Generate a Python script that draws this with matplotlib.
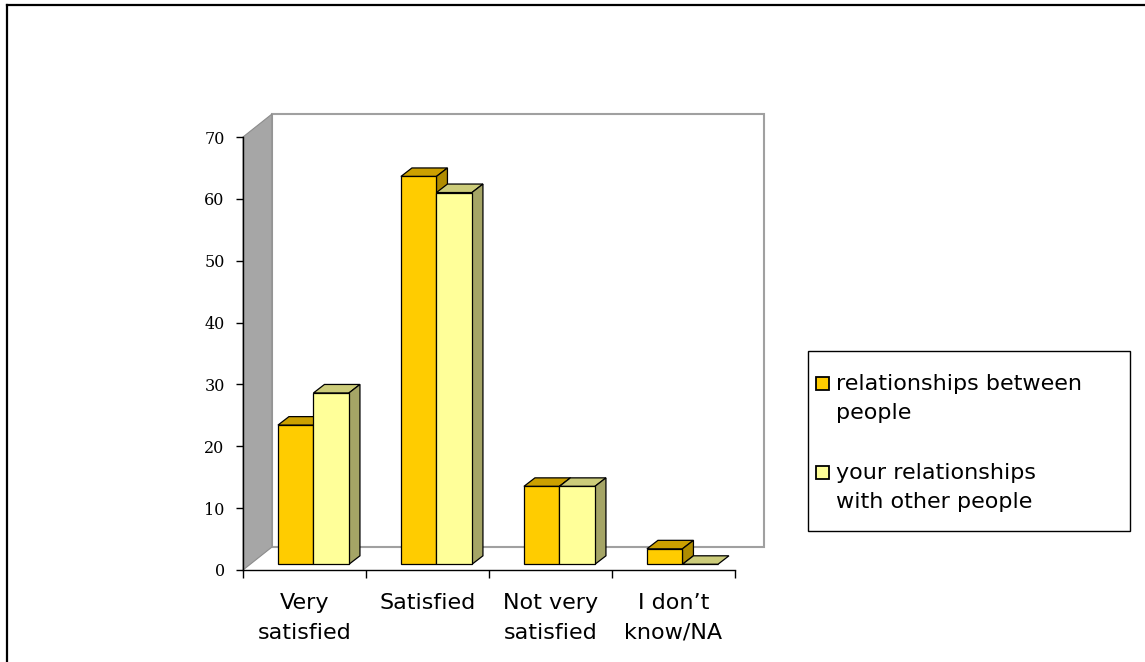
import matplotlib
matplotlib.use("Agg")
import matplotlib.pyplot as plt
from matplotlib.patches import Polygon, Rectangle
from matplotlib.lines import Line2D

categories = ["Very\nsatisfied", "Satisfied", "Not very\nsatisfied", "I don\u2019t\nknow/NA"]
series_names = ["relationships between\npeople", "your relationships\nwith other people"]
between_people = [22.5, 62.7, 12.6, 2.5]
with_others = [27.7, 60.1, 12.6, 0.0]
y_ticks = [0, 10, 20, 30, 40, 50, 60, 70]

# face colours: front, top, side
orange = ("#FFCC00", "#CCA000", "#B08C00")
yellow = ("#FFFF99", "#CCCC7A", "#A5A566")

SANS = "DejaVu Sans"
SERIF = "DejaVu Serif"

W, H = 1145, 662
fig = plt.figure(figsize=(W / 100, H / 100), dpi=100)
ax_l, ax_r, ax_b, ax_t = 243, 735, 570, 137
ax = fig.add_axes([ax_l / W, 1 - ax_b / H, (ax_r - ax_l) / W, (ax_b - ax_t) / H])
ax.set_xlim(0, 4)
ax.set_ylim(0, 70)
ax.set_facecolor("none")

# pixel -> data scale
sx = 4 / (ax_r - ax_l)
sy = 70 / (ax_b - ax_t)

# walls of the 3d box
wdx, wdy = 29 * sx, 23 * sy
ax.add_patch(Polygon([(0, 0), (0, 70), (wdx, 70 + wdy), (wdx, wdy)], closed=True,
                     facecolor="#A6A6A6", edgecolor="#8C8C8C", lw=0.8, zorder=0.5, clip_on=False))
ax.add_patch(Polygon([(wdx, wdy), (wdx, 70 + wdy), (4 + wdx, 70 + wdy), (4 + wdx, wdy)], closed=True,
                     facecolor="white", edgecolor="#A0A0A0", lw=1.5, zorder=0.4, clip_on=False))

# bar geometry
bw = 35.5 * sx
x_in = 27.75 * sx
fdx, fdy = 7.2 * sx, 5.7 * sy
bdx, bdy = 11 * sx, 8.5 * sy

for i in range(len(categories)):
    for s, (vals, cols) in enumerate([(between_people, orange), (with_others, yellow)]):
        x = i + x_in + s * bw + fdx
        v = vals[i] + fdy
        ax.bar(x, vals[i], width=bw, bottom=fdy, align="edge", color=cols[0],
               edgecolor="black", lw=0.9, zorder=3, clip_on=False)
        top = [(x, v), (x + bw, v), (x + bw + bdx, v + bdy), (x + bdx, v + bdy)]
        side = [(x + bw, fdy), (x + bw + bdx, fdy + bdy), (x + bw + bdx, v + bdy), (x + bw, v)]
        ax.add_patch(Polygon(top, closed=True, facecolor=cols[1], edgecolor="black",
                             lw=0.9, zorder=2, clip_on=False))
        if vals[i] > 0:
            ax.add_patch(Polygon(side, closed=True, facecolor=cols[2], edgecolor="black",
                                 lw=0.9, zorder=2, clip_on=False))

for sp in ["top", "right"]:
    ax.spines[sp].set_visible(False)
for sp in ["left", "bottom"]:
    ax.spines[sp].set_linewidth(1)
    ax.spines[sp].set_zorder(4)

ax.set_yticks(y_ticks)
ax.tick_params(axis="y", direction="out", length=5.2, width=1, pad=8, labelsize=11.5)
for lab in ax.get_yticklabels():
    lab.set_fontfamily(SERIF)

ax.set_xticks([0, 1, 2, 3, 4])
ax.set_xticklabels([])
ax.tick_params(axis="x", which="major", direction="out", length=6, width=1)
ax.set_xticks([0.5, 1.5, 2.5, 3.5], minor=True)
ax.set_xticklabels(categories, minor=True, fontsize=16, fontfamily=SANS, linespacing=1.6)
ax.tick_params(axis="x", which="minor", length=0, pad=16.5)

# legend box
lx0, lx1, ly0, ly1 = 808, 1130, 351, 531
fig.add_artist(Rectangle((lx0 / W, 1 - ly1 / H), (lx1 - lx0) / W, (ly1 - ly0) / H,
                         transform=fig.transFigure, facecolor="white", edgecolor="black", lw=1))
for k, (name, cols) in enumerate(zip(series_names, [orange, yellow])):
    top_px = 374 + k * 89
    fig.add_artist(Rectangle((816 / W, 1 - (top_px + 16) / H), 13 / W, 13 / H,
                             transform=fig.transFigure, facecolor=cols[0],
                             edgecolor="black", lw=1.3))
    fig.text(836 / W, 1 - top_px / H, name, ha="left", va="top", fontsize=16,
             fontfamily=SANS, linespacing=1.55)

# outer frame, left and top edges
fig.add_artist(Line2D([7 / W, 7 / W], [0, 1 - 5 / H], color="black", lw=1.6))
fig.add_artist(Line2D([7 / W, 1], [1 - 5 / H, 1 - 5 / H], color="black", lw=1.6))

fig.savefig("out.png", dpi=100)
